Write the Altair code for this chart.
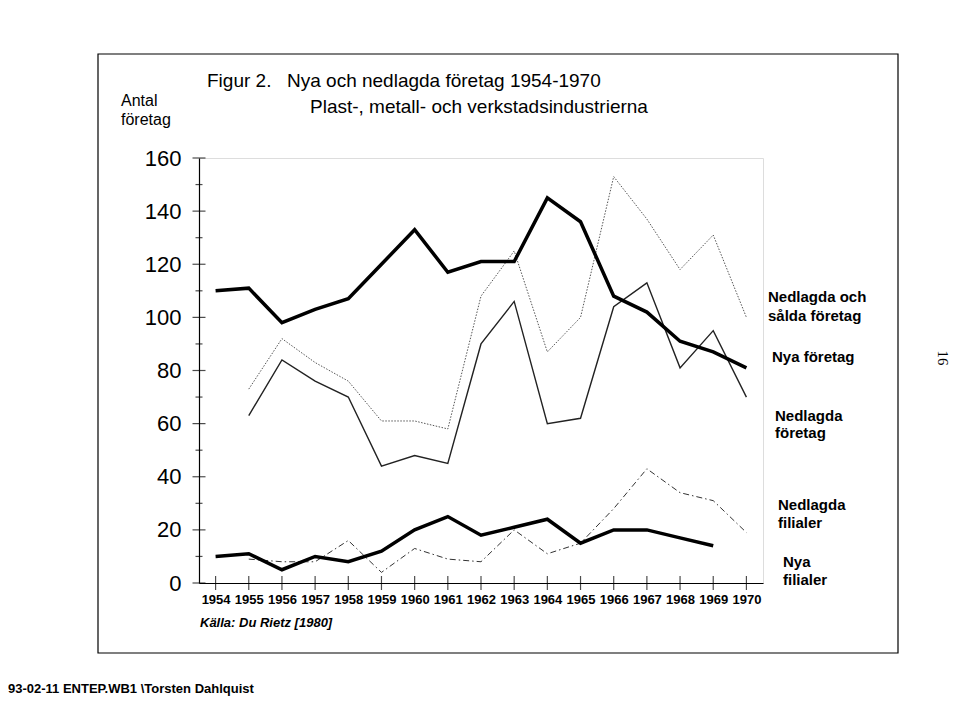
import altair as alt
import pandas as pd

# ---------------- data ----------------
years_all = list(range(1954, 1971))
nedlagda_salda = [110, 111, 98, 103, 107, 120, 133, 117, 121, 121, 145, 136, 108, 102, 91, 87, 81]

years_55_70 = list(range(1955, 1971))
nya_foretag = [73, 92, 83, 76, 61, 61, 58, 108, 125, 87, 100, 153, 137, 118, 131, 100]
nedlagda_foretag = [63, 84, 76, 70, 44, 48, 45, 90, 106, 60, 62, 104, 113, 81, 95, 70]
nedlagda_filialer = [9, 8, 8, 16, 4, 13, 9, 8, 20, 11, 15, 28, 43, 34, 31, 19]

years_54_69 = list(range(1954, 1970))
nya_filialer = [10, 11, 5, 10, 8, 12, 20, 25, 18, 21, 24, 15, 20, 20, 17, 14]

y_major = list(range(0, 161, 20))
y_minor = list(range(10, 160, 20))

rows = []
for name, yrs, vals in [
    ("Nedlagda och sålda företag", years_all, nedlagda_salda),
    ("Nya företag", years_55_70, nya_foretag),
    ("Nedlagda företag", years_55_70, nedlagda_foretag),
    ("Nedlagda filialer", years_55_70, nedlagda_filialer),
    ("Nya filialer", years_54_69, nya_filialer),
]:
    for yr, v in zip(yrs, vals):
        rows.append({"year": yr, "value": v, "series": name})
df = pd.DataFrame(rows)

W, H = 564, 425
FONT = "Liberation Sans"

x_scale = alt.Scale(domain=[1953.5, 1970.5], nice=False, zero=False)
y_scale = alt.Scale(domain=[0, 160], nice=False)

x_axis = alt.Axis(values=years_all, format="d", title=None, ticks=False, grid=False,
                  labelFontSize=13, labelFontWeight="bold", labelPadding=10,
                  domainColor="black", domainWidth=1.2, labelColor="black", labelFont=FONT)
y_axis = alt.Axis(values=y_major, title=None, ticks=False, grid=False,
                  labelFontSize=22, labelPadding=18,
                  domainColor="black", domainWidth=1.2, labelColor="black", labelFont=FONT)

base = alt.Chart(df)


def line(name, **kw):
    return base.transform_filter(alt.datum.series == name).mark_line(**kw).encode(
        x=alt.X("year:Q", scale=x_scale, axis=x_axis),
        y=alt.Y("value:Q", scale=y_scale, axis=y_axis),
    )


l_nsf = line("Nedlagda och sålda företag", color="black", strokeWidth=3.5, strokeJoin="miter")
l_nyf = line("Nya företag", color="#555555", strokeWidth=1.0, strokeDash=[1.5, 1.5])
l_nlf = line("Nedlagda företag", color="#222222", strokeWidth=1.4)
l_nlfil = line("Nedlagda filialer", color="#333333", strokeWidth=1.0, strokeDash=[6, 3, 1.5, 3])
l_nyfil = line("Nya filialer", color="black", strokeWidth=3.5, strokeJoin="miter")

# crossing tick marks on the axes
xt = alt.Chart(pd.DataFrame({"year": years_all})).mark_tick(
    orient="vertical", size=14, thickness=1.2, color="black").encode(
    x=alt.X("year:Q", scale=x_scale, axis=x_axis), y=alt.value(H))
yt_major = alt.Chart(pd.DataFrame({"value": y_major})).mark_tick(
    orient="horizontal", size=13, thickness=1.2, color="black").encode(
    y=alt.Y("value:Q", scale=y_scale, axis=y_axis), x=alt.value(0))
yt_minor = alt.Chart(pd.DataFrame({"value": y_minor})).mark_tick(
    orient="horizontal", size=7, thickness=1.2, color="black").encode(
    y=alt.Y("value:Q", scale=y_scale, axis=y_axis), x=alt.value(0))


def txt(text, x, y, size=15, weight="normal", style="normal", angle=0, align="left",
        font=FONT):
    return alt.Chart(pd.DataFrame({"t": [text]})).mark_text(
        align=align, baseline="alphabetic", fontSize=size, fontWeight=weight,
        fontStyle=style, angle=angle, font=font, color="black").encode(
        x=alt.value(x), y=alt.value(y), text="t:N")


texts = [
    txt("Antal", -78, -52, size=16),
    txt("företag", -78, -33, size=16),
    txt("Figur 2.", 8, -71, size=19),
    txt("Nya och nedlagda företag 1954-1970", 88, -71, size=19),
    txt("Plast-, metall- och verkstadsindustrierna", 111, -45, size=19),
    txt("Nedlagda och", 569, 144, size=15, weight="bold"),
    txt("sålda företag", 569, 163, size=15, weight="bold"),
    txt("Nya företag", 573, 204, size=15, weight="bold"),
    txt("Nedlagda", 576, 263, size=15, weight="bold"),
    txt("företag", 576, 280, size=15, weight="bold"),
    txt("Nedlagda", 579, 352, size=15, weight="bold"),
    txt("filialer", 579, 370, size=15, weight="bold"),
    txt("Nya", 584, 409, size=15, weight="bold"),
    txt("filialer", 584, 427, size=15, weight="bold"),
    txt("Källa:  Du Rietz [1980]", 1, 469, size=13, weight="bold", style="italic"),
    txt("93-02-11 ENTEP.WB1 \\Torsten Dahlquist", -191, 535, size=13, weight="bold"),
    txt("16", 739, 200, size=15, angle=90, align="center", font="Liberation Serif"),
]

frame = alt.Chart(pd.DataFrame({"a": [0]})).mark_rect(
    filled=False, stroke="black", strokeWidth=1.2).encode(
    x=alt.value(-101), x2=alt.value(699), y=alt.value(-104), y2=alt.value(495))

chart = alt.layer(
    l_nlfil, l_nyf, l_nlf, l_nyfil, l_nsf, xt, yt_major, yt_minor, frame, *texts
).properties(
    width=W, height=H,
    autosize=alt.AutoSizeParams(type="none"),
    padding={"left": 191, "top": 150, "right": 189, "bottom": 125},
    background="white",
).configure_view(
    stroke="black", strokeWidth=1.2
).configure(font=FONT)

chart.save("out.html", embed_options={"renderer": "svg", "actions": False})
